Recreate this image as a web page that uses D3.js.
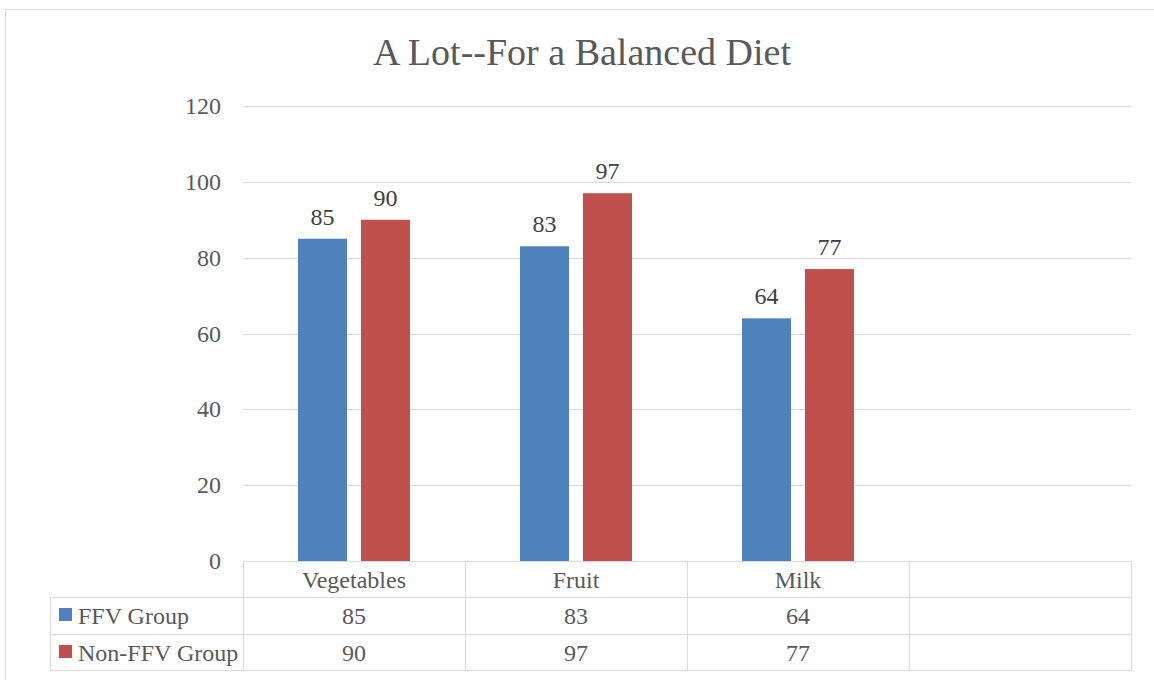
<!DOCTYPE html>
<html>
<head>
<meta charset="utf-8">
<script src="https://cdn.jsdelivr.net/npm/d3@7"></script>
<style>
html,body{margin:0;padding:0;background:#fff;}
svg{display:block;}
text{font-family:"Liberation Serif","DejaVu Serif",serif;fill:#404040;}
</style>
</head>
<body>
<svg id="chart" width="1154" height="680"></svg>
<script>
const categories = ["Vegetables", "Fruit", "Milk", ""];
const seriesNames = ["FFV Group", "Non-FFV Group"];
const ffvValues = [85, 83, 64];
const nonFfvValues = [90, 97, 77];
const yTicks = [0, 20, 40, 60, 80, 100, 120];
const colors = ["#4F81BD", "#C0504D"];
const title = "A Lot--For a Balanced Diet";

(function () {
const series = [ffvValues, nonFfvValues];
const svg = d3.select("#chart");

const pLeft = 243, pRight = 1131, pTop = 106, pBottom = 561;
const gridColor = "#D9D9D9";
const fs = 24;

// chart border
svg.append("rect").attr("x", 5.5).attr("y", 9.5).attr("width", 1160).attr("height", 700)
  .attr("fill", "none").attr("stroke", gridColor).attr("stroke-width", 1);

// title
svg.append("text").attr("x", 582).attr("y", 65).attr("text-anchor", "middle")
  .attr("font-size", 38).attr("textLength", 418).attr("lengthAdjust", "spacingAndGlyphs")
  .style("fill", "#595959").text(title);

const y = d3.scaleLinear().domain([0, 120]).range([pBottom, pTop]);
const x0 = d3.scaleBand().domain(categories.map((c, i) => i)).range([pLeft, pRight]).padding(0);
const x1 = d3.scaleBand().domain(d3.range(seriesNames.length)).range([0, x0.bandwidth()])
  .paddingInner(0.222).paddingOuter(0.873);

// gridlines
svg.append("g").selectAll("line").data(yTicks).join("line")
  .attr("x1", pLeft).attr("x2", pRight)
  .attr("y1", d => Math.round(y(d)) + 0.5).attr("y2", d => Math.round(y(d)) + 0.5)
  .attr("stroke", gridColor).attr("stroke-width", 1);

// y axis labels
svg.append("g").selectAll("text").data(yTicks).join("text")
  .attr("x", 221).attr("y", d => y(d) + 8).attr("text-anchor", "end")
  .attr("font-size", fs).style("fill", "#595959").text(d => d);

// bars
series.forEach((vals, si) => {
  const g = svg.append("g");
  g.selectAll("rect").data(vals).join("rect")
    .attr("x", (d, i) => x0(i) + x1(si)).attr("width", x1.bandwidth())
    .attr("y", d => y(d)).attr("height", d => y(0) - y(d))
    .attr("fill", colors[si]);
  g.selectAll("text").data(vals).join("text")
    .attr("x", (d, i) => x0(i) + x1(si) + x1.bandwidth() / 2)
    .attr("y", d => y(d) - 14).attr("text-anchor", "middle")
    .attr("font-size", fs).text(d => d);
});

// data table
const rowTops = [561, 597, 634, 670];
const tableLeft = 50;
const tg = svg.append("g");
tg.append("line").attr("x1", pLeft).attr("x2", pRight).attr("y1", rowTops[0] + 0.5).attr("y2", rowTops[0] + 0.5).attr("stroke", gridColor);
[1, 2, 3].forEach(r => {
  tg.append("line").attr("x1", tableLeft).attr("x2", pRight)
    .attr("y1", rowTops[r] + 0.5).attr("y2", rowTops[r] + 0.5).attr("stroke", gridColor);
});
tg.append("line").attr("x1", tableLeft + 0.5).attr("x2", tableLeft + 0.5).attr("y1", rowTops[1]).attr("y2", rowTops[3]).attr("stroke", gridColor);
categories.forEach((c, i) => {
  const xx = Math.round(x0(i)) + 0.5;
  tg.append("line").attr("x1", xx).attr("x2", xx).attr("y1", rowTops[0]).attr("y2", rowTops[3]).attr("stroke", gridColor);
});
tg.append("line").attr("x1", pRight + 0.5).attr("x2", pRight + 0.5).attr("y1", rowTops[0]).attr("y2", rowTops[3]).attr("stroke", gridColor);

tg.selectAll("text.cat").data(categories).join("text").attr("class", "cat")
  .attr("x", (d, i) => x0(i) + x0.bandwidth() / 2).attr("y", 588)
  .attr("text-anchor", "middle").attr("font-size", fs).style("fill", "#595959").text(d => d);

series.forEach((vals, si) => {
  const ty = rowTops[si + 1] + 27;
  tg.append("rect").attr("x", 59).attr("y", rowTops[si + 1] + 11).attr("width", 13).attr("height", 13).attr("fill", colors[si]);
  tg.append("text").attr("x", 78).attr("y", ty).attr("font-size", fs).style("fill", "#595959").text(seriesNames[si]);
  tg.selectAll("text.v" + si).data(vals).join("text").attr("class", "v" + si)
    .attr("x", (d, i) => x0(i) + x0.bandwidth() / 2).attr("y", ty)
    .attr("text-anchor", "middle").attr("font-size", fs).style("fill", "#595959").text(d => d);
});
})();
</script>
</body>
</html>
